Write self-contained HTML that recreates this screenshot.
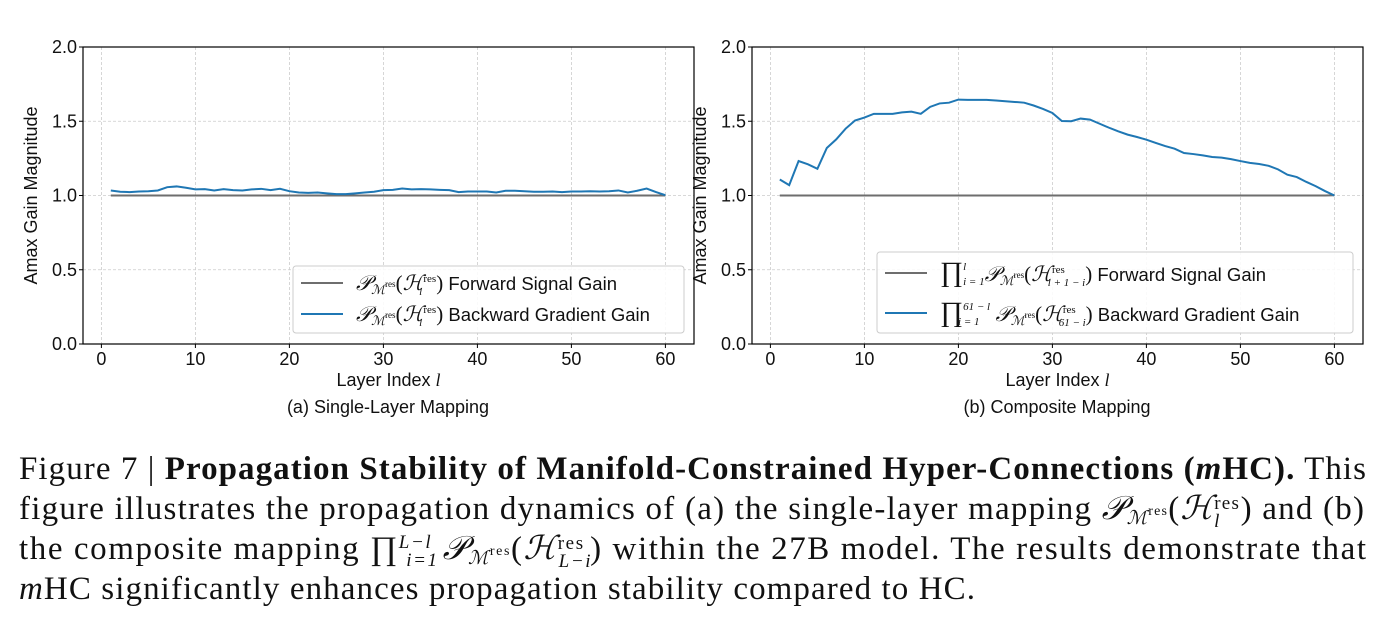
<!DOCTYPE html>
<html><head><meta charset="utf-8"><style>
html,body{margin:0;padding:0;background:#fff;}
svg{display:block;}
.t{font-family:"Liberation Sans",sans-serif;font-size:18px;fill:#111;}
.m{font-family:"Liberation Serif",serif;font-style:italic;fill:#111;}
.cap{font-family:"Liberation Serif",serif;font-size:33px;fill:#111;}
</style></head><body>
<svg id="fig" width="1374" height="630" viewBox="0 0 1374 630">
<g id="axA"></g>
<g id="axB"></g>
<g>
 <rect x="293" y="266" width="391" height="67" rx="3" fill="#fff" fill-opacity="0.85" stroke="#ccc"/>
 <line x1="301" y1="283" x2="343" y2="283" stroke="#6e6e6e" stroke-width="2"/>
 <text x="356" y="290" class="m" font-size="21">𝒫<tspan font-size="13" dy="4">ℳ</tspan><tspan font-size="9" dy="-7" font-style="normal">res</tspan><tspan dy="3" font-style="normal">(</tspan>ℋ<tspan font-size="11" dy="-8" font-style="normal">res</tspan><tspan font-size="11" dx="-17" dy="13">l</tspan><tspan font-style="normal" dx="14" dy="-5">)</tspan><tspan font-style="normal" font-family="Liberation Sans" font-size="18.5"> Forward Signal Gain</tspan></text>
 <line x1="301" y1="314" x2="343" y2="314" stroke="#1f77b4" stroke-width="2"/>
 <text x="356" y="321" class="m" font-size="21">𝒫<tspan font-size="13" dy="4">ℳ</tspan><tspan font-size="9" dy="-7" font-style="normal">res</tspan><tspan dy="3" font-style="normal">(</tspan>ℋ<tspan font-size="11" dy="-8" font-style="normal">res</tspan><tspan font-size="11" dx="-17" dy="13">l</tspan><tspan font-style="normal" dx="14" dy="-5">)</tspan><tspan font-style="normal" font-family="Liberation Sans" font-size="18.5"> Backward Gradient Gain</tspan></text>
</g>
<g>
 <rect x="877" y="252" width="476" height="81" rx="3" fill="#fff" fill-opacity="0.85" stroke="#ccc"/>
 <line x1="885" y1="273" x2="927" y2="273" stroke="#6e6e6e" stroke-width="2"/>
 <text x="940" y="281" class="m" font-size="21"><tspan font-style="normal" font-size="28">∏</tspan><tspan font-size="11" dy="-11">l</tspan><tspan font-size="11" dx="-3" dy="15">i = 1</tspan><tspan dy="-4">𝒫</tspan><tspan font-size="13" dy="4">ℳ</tspan><tspan font-size="9" dy="-7" font-style="normal">res</tspan><tspan dy="3" font-style="normal">(</tspan>ℋ<tspan font-size="11" dy="-8" font-style="normal">res</tspan><tspan font-size="11" dx="-17" dy="13">l + 1 − i</tspan><tspan font-style="normal" dy="-5">)</tspan><tspan font-style="normal" font-family="Liberation Sans" font-size="18.5"> Forward Signal Gain</tspan></text>
 <line x1="885" y1="313" x2="927" y2="313" stroke="#1f77b4" stroke-width="2"/>
 <text x="940" y="321" class="m" font-size="21"><tspan font-style="normal" font-size="28">∏</tspan><tspan font-size="11" dy="-11">61 − l</tspan><tspan font-size="11" dx="-32" dy="15">i = 1</tspan><tspan dx="16" dy="-4">𝒫</tspan><tspan font-size="13" dy="4">ℳ</tspan><tspan font-size="9" dy="-7" font-style="normal">res</tspan><tspan dy="3" font-style="normal">(</tspan>ℋ<tspan font-size="11" dy="-8" font-style="normal">res</tspan><tspan font-size="11" dx="-17" dy="13">61 − i</tspan><tspan font-style="normal" dy="-5">)</tspan><tspan font-style="normal" font-family="Liberation Sans" font-size="18.5"> Backward Gradient Gain</tspan></text>
</g>
<text x="388" y="413" class="t" text-anchor="middle" font-size="19">(a) Single-Layer Mapping</text>
<text x="1057" y="413" class="t" text-anchor="middle" font-size="19">(b) Composite Mapping</text>
<g>
<text x="19" y="479" class="cap" textLength="1347" lengthAdjust="spacing">Figure 7 | <tspan font-weight="bold">Propagation Stability of Manifold-Constrained Hyper-Connections (<tspan font-style="italic">m</tspan>HC).</tspan> This</text>
<text x="19" y="519" class="cap" textLength="1345" lengthAdjust="spacing">figure illustrates the propagation dynamics of (a) the single-layer mapping <tspan font-style="italic">𝒫</tspan><tspan font-size="19" dy="5" font-style="italic">ℳ</tspan><tspan font-size="14" dy="-9">res</tspan><tspan dy="4">(</tspan><tspan font-style="italic">ℋ</tspan><tspan font-size="19" dy="-10">res</tspan><tspan font-size="19" font-style="italic" dx="-26" dy="18">l</tspan><tspan dx="20" dy="-8">) and (b)</tspan></text>
<text x="19" y="559" class="cap" textLength="1347" lengthAdjust="spacing">the composite mapping ∏<tspan font-size="19" font-style="italic" dy="-11">L−l</tspan><tspan font-size="19" font-style="italic" dx="-26" dy="18">i=1</tspan><tspan font-style="italic" dx="4" dy="-7">𝒫</tspan><tspan font-size="19" dy="5" font-style="italic">ℳ</tspan><tspan font-size="14" dy="-9">res</tspan><tspan dy="4">(</tspan><tspan font-style="italic">ℋ</tspan><tspan font-size="19" dy="-10">res</tspan><tspan font-size="19" font-style="italic" dx="-26" dy="18">L−i</tspan><tspan dx="-2" dy="-8">) within the 27B model. The results demonstrate that</tspan></text>
<text x="19" y="599" class="cap" textLength="956" lengthAdjust="spacing"><tspan font-style="italic">m</tspan>HC significantly enhances propagation stability compared to HC.</text>
</g>
</svg>
<script>
const layers = Array.from({length:60},(_,i)=>i+1);
const xTicks = [0,10,20,30,40,50,60];
const yTicks = [0.0,0.5,1.0,1.5,2.0];
const yTickLabels = ["0.0","0.5","1.0","1.5","2.0"];
const forwardA = Array(60).fill(1.0);
const backwardA = [1.034,1.025,1.023,1.027,1.029,1.034,1.056,1.061,1.052,1.041,1.043,1.034,1.043,1.036,1.034,1.041,1.045,1.036,1.045,1.029,1.020,1.018,1.020,1.014,1.009,1.009,1.014,1.020,1.025,1.036,1.038,1.047,1.041,1.043,1.041,1.038,1.036,1.023,1.027,1.027,1.027,1.020,1.032,1.032,1.029,1.025,1.025,1.027,1.023,1.027,1.027,1.029,1.027,1.029,1.034,1.020,1.032,1.047,1.023,1.002];
const forwardB = [1.0,1.0,1.0,1.0,1.0,1.0,1.0,1.0,1.0,1.0,1.0,1.0,1.0,1.0,1.0,1.0,1.0,1.0,1.0,1.0,1.0,1.0,1.0,1.0,1.0,1.0,1.0,1.0,1.0,1.0,1.0,1.0,1.0,1.0,1.0,1.0,1.0,1.0,1.0,1.0,1.0,1.0,1.0,1.0,1.0,1.0,1.0,1.0,1.0,1.0,1.0,1.0,1.0,1.0,1.0,1.0,1.0,1.0,1.0,1.002];
const backwardB = [1.108,1.07,1.232,1.21,1.18,1.32,1.378,1.45,1.505,1.525,1.55,1.55,1.55,1.56,1.565,1.55,1.597,1.62,1.625,1.646,1.644,1.644,1.644,1.64,1.635,1.63,1.625,1.606,1.583,1.556,1.502,1.5,1.518,1.511,1.484,1.457,1.432,1.41,1.394,1.376,1.354,1.333,1.315,1.286,1.279,1.27,1.259,1.255,1.245,1.232,1.22,1.212,1.2,1.176,1.14,1.124,1.092,1.063,1.03,1.0];

const NS="http://www.w3.org/2000/svg";
function mk(tag,attrs,parent){const e=document.createElementNS(NS,tag);for(const k in attrs)e.setAttribute(k,attrs[k]);parent.appendChild(e);return e;}

function drawAxes(g,left,fwd,bwd,key){
  const right=left+611, top=47, bottom=344;
  const x0=left+18.4, xs=(left+582.4-x0)/60;
  const X=v=>x0+v*xs, Y=v=>bottom-(v/2)*(bottom-top);
  xTicks.forEach(t=>{
    const l=mk('line',{x1:X(t),x2:X(t),y1:top,y2:bottom,stroke:'#ccc','stroke-width':0.8,'stroke-dasharray':'3,2'},g);
    
    
    mk('line',{x1:X(t),x2:X(t),y1:bottom,y2:bottom+4,stroke:'#000','stroke-width':1},g);
    const tx=mk('text',{x:X(t),y:bottom+21,'text-anchor':'middle',class:'t'},g);
    tx.textContent=t;
    
    
  });
  yTicks.forEach((t,i)=>{
    const l=mk('line',{x1:left,x2:right,y1:Y(t),y2:Y(t),stroke:'#ccc','stroke-width':0.8,'stroke-dasharray':'3,2'},g);
    
    
    mk('line',{x1:left-4,x2:left,y1:Y(t),y2:Y(t),stroke:'#000','stroke-width':1},g);
    const tx=mk('text',{x:left-6,y:Y(t)+6,'text-anchor':'end',class:'t'},g);
    tx.textContent=yTickLabels[i];
    
    
  });
  const pf=mk('polyline',{points:layers.map((l,i)=>X(l)+','+Y(fwd[i])).join(' '),fill:'none',stroke:'#6e6e6e','stroke-width':2},g);
  
  
  const pb=mk('polyline',{points:layers.map((l,i)=>X(l)+','+Y(bwd[i])).join(' '),fill:'none',stroke:'#1f77b4','stroke-width':2},g);
  
  
  const fr=mk('rect',{x:left,y:top,width:right-left,height:bottom-top,fill:'none',stroke:'#000','stroke-width':1.2},g);
  
  
  const xl=mk('text',{x:(left+right)/2,y:bottom+42,'text-anchor':'middle',class:'t','font-size':19},g);
  xl.innerHTML='Layer Index <tspan font-family="Liberation Serif" font-style="italic">l</tspan>';
  
  
  const yl=mk('text',{x:0,y:0,'text-anchor':'middle',class:'t','font-size':17.5,transform:`translate(${left-46},${(top+bottom)/2}) rotate(-90)`},g);
  yl.textContent='Amax Gain Magnitude';
  
  
}
drawAxes(document.getElementById('axA'),83,forwardA,backwardA,'a');
drawAxes(document.getElementById('axB'),752,forwardB,backwardB,'b');
const fig=document.getElementById('fig');
fig.appendChild(fig.children[2]);fig.appendChild(fig.children[2]);
</script>
</body></html>
